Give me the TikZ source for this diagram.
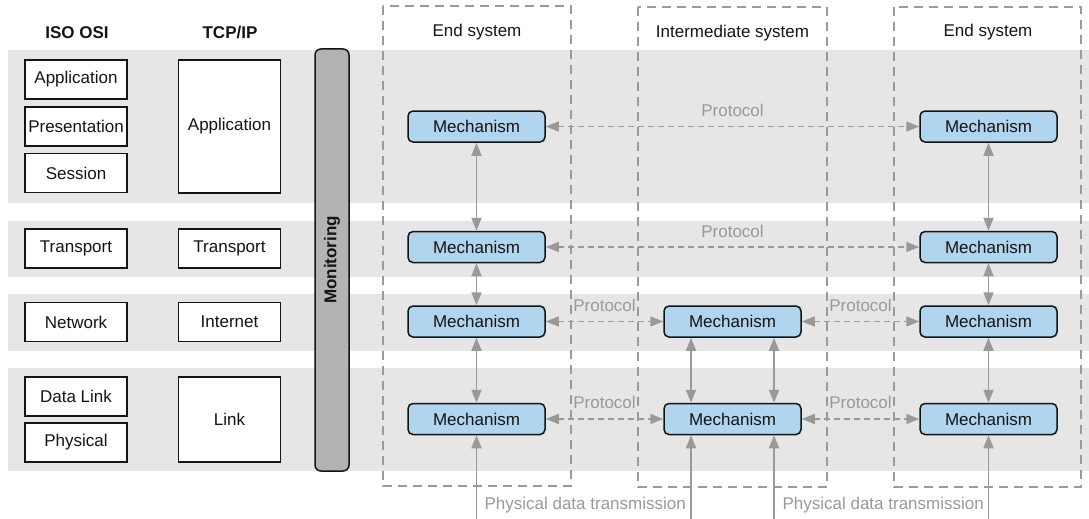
\documentclass[tikz,border=0pt]{standalone}
\usepackage{fontspec}
\setmainfont{Liberation Sans}
\usetikzlibrary{arrows.meta}

\definecolor{bandgray}{HTML}{E6E6E6}
\definecolor{linkgray}{HTML}{999999}
\definecolor{boxgray}{HTML}{9A9A9A}
\definecolor{mechblue}{HTML}{B1D4EF}
\definecolor{barfill}{HTML}{B3B3B3}
\definecolor{ink}{HTML}{141414}

\tikzset{
  txt/.style={font=\fontsize{17}{20}\selectfont, text=ink},
  head/.style={txt, font=\fontsize{17}{20}\selectfont\bfseries},
  layer/.style={txt, draw=ink, line width=1.5pt, fill=white, inner sep=0pt,
    minimum width=102pt, minimum height=39pt},
  mech/.style={txt, draw=ink, line width=1.5pt, fill=mechblue, rounded corners=5pt,
    inner sep=0pt, minimum width=137pt, minimum height=31pt},
  band/.style={fill=bandgray},
  sysbox/.style={draw=boxgray, line width=1.4pt, dash pattern=on 9pt off 6pt},
  tip/.tip={Triangle[length=13pt,width=10pt]},
  link/.style={draw=linkgray, line width=1.8pt, tip-tip},
  uplink/.style={draw=linkgray, line width=1.8pt, -tip},
  proto/.style={link, line width=1.6pt, dash pattern=on 6pt off 4pt},
  lbl/.style={font=\fontsize{17}{20}\selectfont, text=linkgray, inner sep=1pt},
}

\begin{document}
\begin{tikzpicture}[x=1pt,y=-1pt]
\useasboundingbox (0,0) rectangle (1089,519);

% horizontal layer bands
\fill[band] (8,50) rectangle (1089,203);
\fill[band] (8,221) rectangle (1089,277);
\fill[band] (8,294) rectangle (1089,351);
\fill[band] (8,368) rectangle (1089,471);

% system frames
\draw[sysbox] (383,6) rectangle (571,486);
\draw[sysbox] (638,7) rectangle (827,487);
\draw[sysbox] (894,7) rectangle (1081,487);

% column headings
\node[head] (hiso) at (77,33) {ISO OSI};
\node[head] (htcp) at (230,33) {TCP/IP};
\node[txt] (hend1) at (477,32) {End system};
\node[txt] (hmid) at (732.5,33) {Intermediate system};
\node[txt] (hend2) at (988,32) {End system};

% ISO OSI layers
\node[layer] (osi1) at (76,79.5) {Application};
\node[layer] (osi2) at (76,126.5) {Presentation};
\node[layer] (osi3) at (76,173) {Session};
\node[layer] (osi4) at (76,248.5) {Transport};
\node[layer] (osi5) at (76,322) {Network};
\node[layer] (osi6) at (76,396.5) {Data Link};
\node[layer] (osi7) at (76,442.5) {Physical};

% TCP/IP layers
\node[layer, minimum height=133pt] (tcp1) at (229.5,126.5) {Application};
\node[layer] (tcp2) at (229.5,248.5) {Transport};
\node[layer] (tcp3) at (229.5,322) {Internet};
\node[layer, minimum height=85pt] (tcp4) at (229.5,419.5) {Link};

% monitoring bar
\node[draw=ink, line width=1.5pt, fill=barfill, rounded corners=6pt,
      minimum width=34pt, minimum height=422pt, inner sep=0pt] (mon) at (332,260) {};
\node[head, rotate=90] (montext) at (332,260) {Monitoring};

% mechanisms: end system (left)
\node[mech] (a1) at (476.5,126.5) {Mechanism};
\node[mech] (a2) at (476.5,247) {Mechanism};
\node[mech] (a3) at (476.5,321.5) {Mechanism};
\node[mech] (a4) at (476.5,419) {Mechanism};
% mechanisms: intermediate system
\node[mech] (b3) at (732.5,321.5) {Mechanism};
\node[mech] (b4) at (732.5,419) {Mechanism};
% mechanisms: end system (right)
\node[mech] (c1) at (988.5,126.5) {Mechanism};
\node[mech] (c2) at (988.5,247) {Mechanism};
\node[mech] (c3) at (988.5,321.5) {Mechanism};
\node[mech] (c4) at (988.5,419) {Mechanism};

% vertical links inside each system
\draw[link] (a1) -- (a2);
\draw[link] (a2) -- (a3);
\draw[link] (a3) -- (a4);
\draw[link] (c1) -- (c2);
\draw[link] (c2) -- (c3);
\draw[link] (c3) -- (c4);
\draw[link] ([xshift=-41.5pt]b3.south) -- ([xshift=-41.5pt]b4.north);
\draw[link] ([xshift=41.5pt]b3.south) -- ([xshift=41.5pt]b4.north);

% peer protocols
\draw[proto] (a1) -- node[lbl, midway, yshift=16.5pt] (p1) {Protocol} (c1);
\draw[proto] (a2) -- node[lbl, midway, yshift=16pt] (p2) {Protocol} (c2);
\draw[proto] (a3) -- node[lbl, midway, yshift=16.5pt] (p3) {Protocol} (b3);
\draw[proto] (b3) -- node[lbl, midway, yshift=16.5pt] (p4) {Protocol} (c3);
\draw[proto] (a4) -- node[lbl, midway, yshift=16.5pt] (p5) {Protocol} (b4);
\draw[proto] (b4) -- node[lbl, midway, yshift=16.5pt] (p6) {Protocol} (c4);

% physical media
\coordinate (ma) at (476.5,519);
\coordinate (mb1) at (691,519);
\coordinate (mb2) at (774,519);
\coordinate (mc) at (988.5,519);
\draw[uplink] (ma) -- (a4);
\draw[uplink] (mb1) -- ([xshift=-41.5pt]b4.south);
\draw[uplink] (mb2) -- ([xshift=41.5pt]b4.south);
\draw[uplink] (mc) -- (c4);
\node[lbl, anchor=east] (phys1) at (687,505) {Physical data transmission};
\node[lbl, anchor=east] (phys2) at (985,505) {Physical data transmission};
\end{tikzpicture}
\end{document}
